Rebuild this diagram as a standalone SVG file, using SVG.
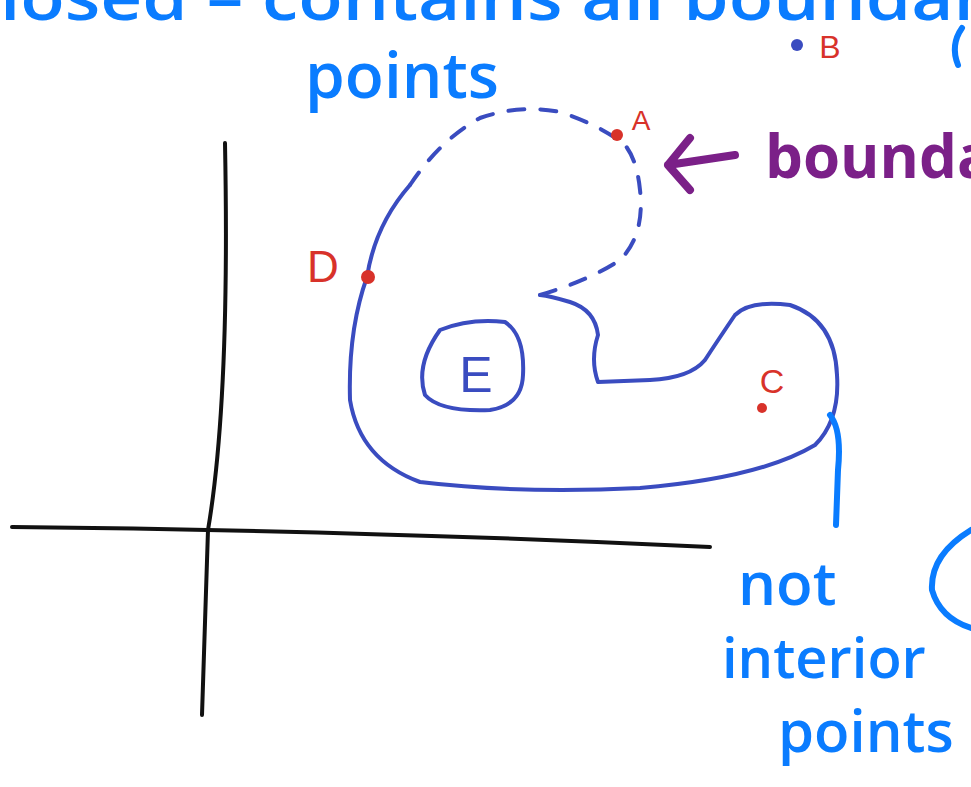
<svg xmlns="http://www.w3.org/2000/svg" width="971" height="787" viewBox="0 0 971 787">
<style>
.ax{fill:none;stroke:#111;stroke-width:4;stroke-linecap:round}
.sh{fill:none;stroke:#3a4cc0;stroke-width:4;stroke-linecap:round;stroke-linejoin:round}
.dash{stroke-dasharray:16 16}
.note{fill:none;stroke:#0a7cff;stroke-width:6;stroke-linecap:round}
.bt{font-family:"Open Sans","Liberation Sans",sans-serif;fill:#0a7cff;font-weight:600}
.rt{font-family:"Liberation Sans",sans-serif;fill:#d8322a}
.pt{font-family:"Open Sans","Liberation Sans",sans-serif;fill:#7b2088;font-weight:700}
.dot{fill:#d8322a}
</style>
<g id="axes">
<path class="ax" d="M225,143 Q230,400 208,530 L202,715"/>
<path class="ax" d="M12,527 Q350,530 710,547"/>
</g>
<g id="region">
<path class="sh" d="M410,185 Q375,225 367,277 Q348,330 350,400 Q360,460 420,482 Q520,494 640,488 Q760,478 815,445 Q840,420 837,375 Q835,320 790,305 Q750,300 735,315 Q718,340 705,360 Q690,378 650,380 L598,382 Q590,360 598,335 Q595,310 570,302 Q550,296 540,295"/>
<path class="sh dash" d="M540,295 Q590,280 620,260 Q645,235 640,190 Q637,160 625,145 Q600,125 560,112 Q520,104 480,118 Q440,140 410,185"/>
</g>
<g id="E">
<path class="sh" d="M440,330 Q470,318 505,322 Q525,335 523,375 Q522,405 490,410 Q440,412 425,395 Q415,365 440,330 Z"/>
<text class="rt" x="476" y="392" font-size="50" text-anchor="middle" style="fill:#3a4cc0">E</text>
</g>
<g id="A">
<circle class="dot" cx="617" cy="135" r="6"/>
<text class="rt" x="641" y="130" font-size="28" text-anchor="middle">A</text>
</g>
<g id="B">
<circle cx="797" cy="45" r="6" fill="#3a4cc0"/>
<text class="rt" x="830" y="58" font-size="32" text-anchor="middle">B</text>
</g>
<g id="D">
<circle class="dot" cx="368" cy="277" r="7"/>
<text class="rt" x="323" y="282" font-size="44" text-anchor="middle">D</text>
</g>
<g id="C">
<circle class="dot" cx="762" cy="408" r="5"/>
<text class="rt" x="772" y="393" font-size="34" text-anchor="middle">C</text>
</g>
<g id="boundary">
<path d="M735,155 L668,165 M690,138 L668,165 L690,190" fill="none" stroke="#7b2088" stroke-width="8" stroke-linecap="round" stroke-linejoin="round"/>
<text class="pt" x="765" y="178" font-size="60">bounda</text>
</g>
<g id="notes">
<text class="bt" x="0" y="20" font-size="64" textLength="985" lengthAdjust="spacingAndGlyphs">losed – contains all boundar</text>
<text class="bt" x="305" y="98" font-size="64">points</text>
<path class="note" d="M958,65 Q950,45 962,28"/>
<path class="note" d="M830,415 Q842,430 838,470 L836,525"/>
<path class="note" d="M971,530 Q930,555 932,590 Q940,618 971,628"/>
<text class="bt" x="738" y="605" font-size="60">not</text>
<text class="bt" x="722" y="678" font-size="56">interior</text>
<text class="bt" x="778" y="752" font-size="58">points</text>
</g>
</svg>
